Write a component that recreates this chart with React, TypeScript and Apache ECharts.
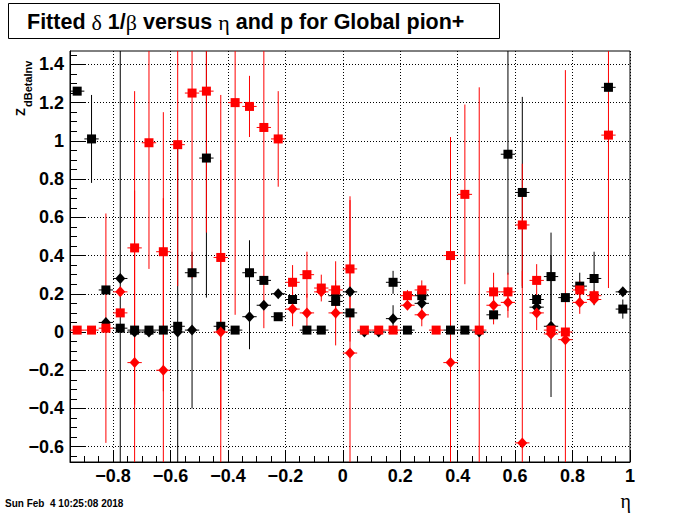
import React, { useEffect, useRef } from "react";
import * as echarts from "echarts";

// ---------- data ----------
const X_MIN = -0.95;
const X_MAX = 1.0;
const Y_MIN = -0.68;
const Y_MAX = 1.47;
const HALF_BIN = 0.025;

const X_TICKS = [-0.8, -0.6, -0.4, -0.2, 0, 0.2, 0.4, 0.6, 0.8, 1.0];
const Y_TICKS = [-0.6, -0.4, -0.2, 0, 0.2, 0.4, 0.6, 0.8, 1.0, 1.2, 1.4];

// black squares
const BS_ETA = [-0.925, -0.875, -0.825, -0.775, -0.725, -0.675, -0.625, -0.575, -0.525, -0.475, -0.425, -0.375, -0.325, -0.275, -0.225, -0.175, -0.125, -0.075, -0.025, 0.025, 0.175, 0.225, 0.275, 0.375, 0.425, 0.525, 0.575, 0.625, 0.675, 0.725, 0.775, 0.825, 0.875, 0.925, 0.975];
const BS_VAL = [1.26, 1.01, 0.22, 0.02, 0.01, 0.01, 0.01, 0.03, 0.31, 0.91, 0.03, 0.01, 0.31, 0.27, 0.08, 0.17, 0.01, 0.01, 0.16, 0.10, 0.26, 0.01, 0.19, 0.01, 0.01, 0.09, 0.93, 0.73, 0.17, 0.29, 0.18, 0.24, 0.28, 1.28, 0.12];
const BS_ERR = [0.02, 0.23, 0.02, 1.6, 0.01, 0.01, 0.01, 0.02, 0.02, 0.73, 0.01, 0.01, 0.17, 0.02, 0.02, 0.02, 0.01, 0.01, 0.02, 0.02, 0.06, 0.01, 0.02, 0.01, 0.01, 0.02, 0.63, 0.5, 0.02, 0.23, 0.02, 0.07, 0.14, 0.02, 0.05];

// black diamonds
const BD_ETA = [-0.825, -0.775, -0.725, -0.675, -0.575, -0.525, -0.325, -0.275, -0.225, -0.025, 0.025, 0.075, 0.125, 0.175, 0.275, 0.475, 0.675, 0.725, 0.975];
const BD_VAL = [0.05, 0.28, 0.0, 0.0, 0.0, 0.01, 0.08, 0.14, 0.20, 0.19, 0.21, 0.0, 0.0, 0.07, 0.15, 0.0, 0.13, 0.03, 0.21];
const BD_ERR = [0.01, 0.02, 0.01, 0.01, 1.0, 0.41, 0.17, 0.02, 0.02, 0.02, 0.02, 0.01, 0.01, 0.07, 0.02, 0.01, 0.02, 0.37, 0.02];

// red squares
const RS_ETA = [-0.925, -0.875, -0.825, -0.775, -0.725, -0.675, -0.625, -0.575, -0.525, -0.475, -0.425, -0.375, -0.325, -0.275, -0.225, -0.175, -0.125, -0.075, -0.025, 0.025, 0.075, 0.125, 0.175, 0.225, 0.275, 0.325, 0.375, 0.425, 0.475, 0.525, 0.575, 0.625, 0.675, 0.725, 0.775, 0.825, 0.875, 0.925];
const RS_VAL = [0.01, 0.01, 0.02, 0.10, 0.44, 0.99, 0.42, 0.98, 1.25, 1.26, 0.39, 1.20, 1.18, 1.07, 1.01, 0.26, 0.30, 0.23, 0.22, 0.33, 0.01, 0.01, 0.01, 0.19, 0.22, 0.01, 0.40, 0.72, 0.01, 0.21, 0.21, 0.56, 0.27, 0.01, 0.0, 0.22, 0.19, 1.03];
const RS_ERR = [0.01, 0.01, 0.6, 0.02, 0.82, 0.66, 0.73, 0.74, 0.97, 0.74, 0.85, 1.11, 0.16, 1.05, 0.25, 0.09, 0.12, 0.07, 0.15, 0.38, 0.01, 0.01, 0.01, 0.03, 0.05, 0.01, 0.62, 0.47, 1.27, 0.1, 0.1, 0.32, 0.085, 0.01, 1.37, 0.05, 0.03, 0.8];

// red diamonds
const RD_ETA = [-0.775, -0.725, -0.625, -0.425, -0.175, -0.125, -0.075, -0.025, 0.025, 0.225, 0.275, 0.375, 0.525, 0.575, 0.625, 0.675, 0.725, 0.775, 0.825, 0.875];
const RD_VAL = [0.21, -0.16, -0.20, 0.0, 0.12, 0.10, 0.21, 0.10, -0.11, 0.14, 0.09, -0.16, 0.14, 0.155, -0.58, 0.10, -0.01, -0.04, 0.155, 0.17];
const RD_ERR = [0.02, 0.9, 0.9, 0.9, 0.09, 0.1, 0.02, 0.17, 0.8, 0.02, 0.06, 0.9, 0.1, 0.08, 0.9, 0.09, 0.01, 0.02, 0.06, 0.02];

// ---------- helpers ----------
function minorValues(min: number, max: number, step: number, majors: number[]) {
  const out: number[] = [];
  const start = Math.ceil(min / step - 1e-9);
  const end = Math.floor(max / step + 1e-9);
  for (let i = start; i <= end; i++) {
    const v = Math.round(i * step * 1000) / 1000;
    if (v <= min + 1e-9 || v >= max - 1e-9) continue;
    if (majors.some((m) => Math.abs(m - v) < 1e-9)) continue;
    out.push(v);
  }
  return out;
}

function fmt(v: number) {
  if (Math.abs(v) < 1e-9) return "0";
  const a = Math.abs(v);
  const s = Math.abs(a - Math.round(a)) < 1e-9 ? String(Math.round(a)) : a.toFixed(1);
  return v < 0 ? "\u2212" + s : s;
}

function zip(eta: number[], val: number[], err: number[]) {
  return eta.map((e, i) => [e, val[i], err[i]]);
}

function errRender(color: string) {
  return (params: any, api: any) => {
    const x = api.value(0);
    const y = api.value(1);
    const e = api.value(2);
    const hi = Math.min(y + e, Y_MAX);
    const lo = Math.max(y - e, Y_MIN);
    const pT = api.coord([x, hi]);
    const pB = api.coord([x, lo]);
    const pL = api.coord([Math.max(x - HALF_BIN, X_MIN), y]);
    const pR = api.coord([Math.min(x + HALF_BIN, X_MAX), y]);
    return {
      type: "group",
      children: [
        { type: "line", shape: { x1: pT[0], y1: pT[1], x2: pB[0], y2: pB[1] }, style: { stroke: color, lineWidth: 1 } },
        { type: "line", shape: { x1: pL[0], y1: pL[1], x2: pR[0], y2: pR[1] }, style: { stroke: color, lineWidth: 1 } },
      ],
    };
  };
}

const LABEL_FONT = "Liberation Sans";

export default function App() {
  const ref = useRef<HTMLDivElement>(null);

  useEffect(() => {
    if (!ref.current) return;
    const chart = echarts.init(ref.current, null, { renderer: "svg" });

    const xMinor = minorValues(X_MIN, X_MAX, 0.05, X_TICKS);
    const yMinor = minorValues(Y_MIN, Y_MAX, 0.05, Y_TICKS);

    const BLACK = "#000000";
    const RED = "#ff0000";

    const errSeries = (name: string, data: number[][], color: string) => ({
      name,
      type: "custom",
      xAxisIndex: 0,
      yAxisIndex: 0,
      renderItem: errRender(color),
      encode: { x: 0, y: 1 },
      data,
      silent: true,
      z: 2,
    });

    const markSeries = (name: string, eta: number[], val: number[], color: string, symbol: string, size: any) => ({
      name,
      type: "scatter",
      xAxisIndex: 0,
      yAxisIndex: 0,
      symbol,
      symbolSize: size,
      itemStyle: { color, opacity: 1 },
      data: eta.map((e, i) => [e, val[i]]),
      silent: true,
      z: 3,
    });

    const option: any = {
      animation: false,
      backgroundColor: "#ffffff",
      grid: {
        left: 70,
        right: 70,
        top: 51,
        bottom: 52,
        show: true,
        borderColor: "#000",
        borderWidth: 1,
        backgroundColor: "transparent",
      },
      xAxis: [
        {
          type: "value",
          min: X_MIN,
          max: X_MAX,
          splitNumber: 10,
          position: "bottom",
          axisLine: { show: true, onZero: false, lineStyle: { color: "#000", width: 1 } },
          axisTick: { show: true, inside: true, length: 12, customValues: X_TICKS, lineStyle: { color: "#000", width: 1 } },
          axisLabel: {
            show: true,
            customValues: X_TICKS,
            formatter: fmt,
            color: "#000",
            fontFamily: LABEL_FONT,
            fontWeight: "bold",
            fontSize: 18,
            margin: 5,
          },
          splitLine: { show: true, lineStyle: { color: "#000", width: 1, type: [1, 2] } },
        },
        {
          type: "value",
          min: X_MIN,
          max: X_MAX,
          position: "bottom",
          offset: 0,
          axisLine: { show: false, onZero: false },
          axisTick: { show: true, inside: true, length: 6, customValues: xMinor, lineStyle: { color: "#000", width: 1 } },
          axisLabel: { show: false },
          splitLine: { show: false },
        },
      ],
      yAxis: [
        {
          type: "value",
          min: Y_MIN,
          max: Y_MAX,
          splitNumber: 10,
          position: "left",
          axisLine: { show: true, onZero: false, lineStyle: { color: "#000", width: 1 } },
          axisTick: { show: true, inside: true, length: 15, customValues: Y_TICKS, lineStyle: { color: "#000", width: 1 } },
          axisLabel: {
            show: true,
            customValues: Y_TICKS,
            formatter: fmt,
            color: "#000",
            fontFamily: LABEL_FONT,
            fontWeight: "bold",
            fontSize: 18,
            margin: 6,
          },
          splitLine: { show: true, lineStyle: { color: "#000", width: 1, type: [1, 2] } },
        },
        {
          type: "value",
          min: Y_MIN,
          max: Y_MAX,
          position: "left",
          offset: 0,
          axisLine: { show: false, onZero: false },
          axisTick: { show: true, inside: true, length: 7, customValues: yMinor, lineStyle: { color: "#000", width: 1 } },
          axisLabel: { show: false },
          splitLine: { show: false },
        },
      ],
      series: [
        errSeries("bsErr", zip(BS_ETA, BS_VAL, BS_ERR), BLACK),
        errSeries("bdErr", zip(BD_ETA, BD_VAL, BD_ERR), BLACK),
        errSeries("rsErr", zip(RS_ETA, RS_VAL, RS_ERR), RED),
        errSeries("rdErr", zip(RD_ETA, RD_VAL, RD_ERR), RED),
        markSeries("bs", BS_ETA, BS_VAL, BLACK, "rect", 9),
        markSeries("bd", BD_ETA, BD_VAL, BLACK, "diamond", [10, 11]),
        markSeries("rs", RS_ETA, RS_VAL, RED, "rect", 9),
        markSeries("rd", RD_ETA, RD_VAL, RED, "diamond", [10, 11]),
      ],
      graphic: [
        {
          type: "rect",
          shape: { x: 8.5, y: 3.5, width: 491, height: 35 },
          style: { fill: "#fff", stroke: "#000", lineWidth: 1 },
          z: 10,
        },
        {
          type: "text",
          x: 27,
          y: 22,
          z: 11,
          style: {
            text: "{b|Fitted }{g|\u03b4}{b| 1/}{g|\u03b2}{b| versus }{g|\u03b7}{b| and p for Global pion+}",
            verticalAlign: "middle",
            rich: {
              b: { fontFamily: LABEL_FONT, fontWeight: "bold", fontSize: 21.5, fill: "#000" },
              g: { fontFamily: "Liberation Serif", fontWeight: "normal", fontSize: 22, fill: "#000" },
            },
          },
        },
        {
          type: "text",
          x: 20,
          y: 116,
          rotation: Math.PI / 2,
          z: 11,
          style: {
            text: "Z",
            fontFamily: LABEL_FONT,
            fontWeight: "bold",
            fontSize: 13,
            fill: "#000",
            align: "left",
            verticalAlign: "middle",
          },
        },
        {
          type: "text",
          x: 28,
          y: 107,
          rotation: Math.PI / 2,
          z: 11,
          style: {
            text: "dBetaInv",
            fontFamily: LABEL_FONT,
            fontWeight: "bold",
            fontSize: 11,
            fill: "#000",
            align: "left",
            verticalAlign: "middle",
          },
        },
        {
          type: "text",
          x: 631,
          y: 501,
          z: 11,
          style: {
            text: "\u03b7",
            fontFamily: "Liberation Serif",
            fontSize: 20,
            fill: "#000",
            align: "right",
            verticalAlign: "middle",
          },
        },
        {
          type: "text",
          x: 5,
          y: 503,
          z: 11,
          style: {
            text: "Sun Feb  4 10:25:08 2018",
            fontFamily: LABEL_FONT,
            fontWeight: "bold",
            fontSize: 10,
            fill: "#000",
            align: "left",
            verticalAlign: "middle",
          },
        },
      ],
    };

    chart.setOption(option);
    return () => {
      chart.dispose();
    };
  }, []);

  return (
    <div
      ref={ref}
      style={{ position: "absolute", left: 0, top: 0, width: 700, height: 514, background: "#fff" }}
    />
  );
}
